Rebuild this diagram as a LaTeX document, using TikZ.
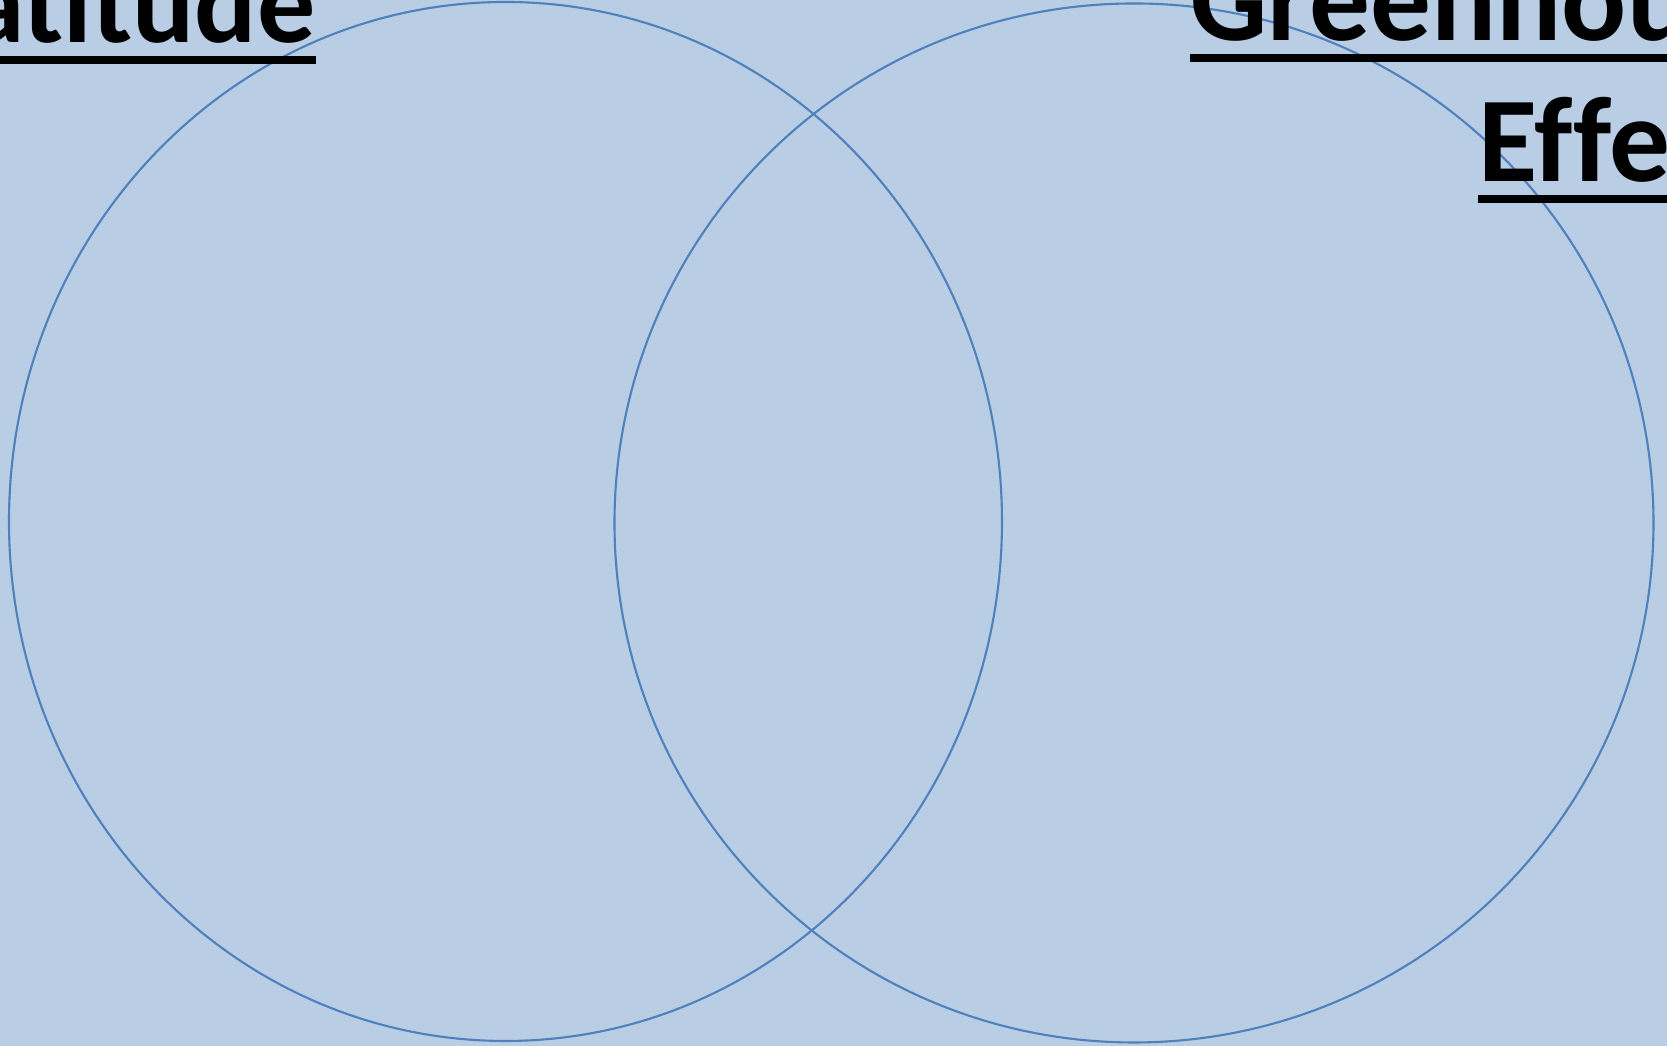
\documentclass[tikz,border=0pt]{standalone}
\usepackage{fontspec}
\setmainfont{Carlito}[Ligatures=NoCommon]
\usetikzlibrary{positioning}
\definecolor{slidebg}{HTML}{B9CDE5}
\definecolor{ringblue}{HTML}{4F81BD}

\begin{document}
\begin{tikzpicture}[
    ring/.style={draw=ringblue, line width=0.6pt},
    title/.style={font=\fontsize{33}{40}\selectfont\bfseries, inner sep=0pt},
    bigtitle/.style={title, font=\fontsize{34.5}{42}\selectfont\bfseries},
    uline/.style={line width=0.08cm},
]
\useasboundingbox (0,0) rectangle (16.67,10.46);
\fill[slidebg] (0,0) rectangle (16.67,10.46);
\clip (0,0) rectangle (16.67,10.46);
% the two overlapping rings
\draw[ring] (5.055,5.245) ellipse [x radius=4.965, y radius=5.195];
\draw[ring] (11.34,5.23) circle (5.195);
% headings, cut off at the slide edges
\node[title, anchor=base east] (lat) at (3.16,10.03) {Latitude};
\draw[uline] ([yshift=-0.17cm]lat.base west) -- ([yshift=-0.17cm]lat.base east);
\node[bigtitle, anchor=base west] (green) at (11.90,10.05) {Greenhouse};
\draw[uline] ([yshift=-0.17cm]green.base west) -- ([yshift=-0.17cm]green.base east);
\node[bigtitle, anchor=base west] (eff) at (14.78,8.64) {Effect};
\draw[uline] ([yshift=-0.17cm]eff.base west) -- ([yshift=-0.17cm]eff.base east);
\end{tikzpicture}
\end{document}
